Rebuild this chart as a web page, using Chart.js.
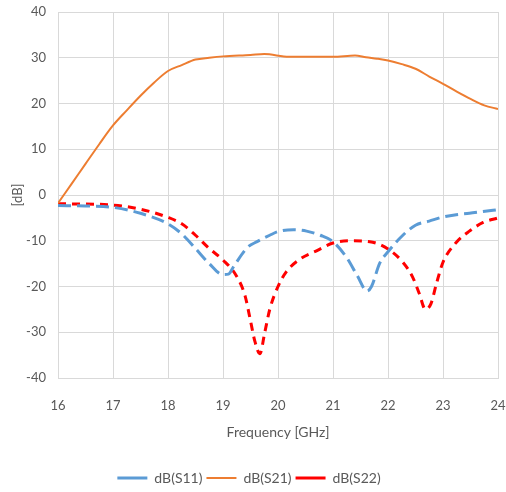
<!DOCTYPE html>
<html>
<head>
<meta charset="utf-8">
<script src="https://cdn.jsdelivr.net/npm/chart.js@4"></script>
<style>
  html, body { margin: 0; padding: 0; background: #fff; }
  #chart { display: block; }
</style>
</head>
<body>
<canvas id="chart" width="506" height="492"></canvas>
<script>
// S-parameters
const s11Freq = [16, 16.5, 17, 17.5, 18, 18.25, 18.5, 18.75, 19, 19.1, 19.2, 19.45, 19.62, 19.85, 20, 20.28, 20.52, 20.77, 21, 21.25, 21.44, 21.62, 21.7, 21.85, 22, 22.27, 22.5, 22.75, 23, 23.24, 23.48, 23.73, 24];
const s11Db = [-2.3, -2.4, -2.7, -4.0, -6.3, -8.5, -11.7, -15, -17.4, -17.3, -15.5, -11.4, -10.2, -8.8, -8, -7.6, -7.9, -8.8, -10.2, -13.7, -17.6, -21, -20, -14.9, -12.4, -8.8, -6.6, -5.7, -4.8, -4.3, -4, -3.6, -3.2];

const s21Freq = [16, 16.25, 16.5, 16.75, 17, 17.25, 17.5, 17.75, 18, 18.25, 18.5, 18.75, 19, 19.5, 19.75, 20.2, 21, 21.4, 21.6, 21.8, 22, 22.25, 22.5, 22.75, 23, 23.25, 23.5, 23.75, 24];
const s21Db = [-1.8, 2.5, 6.8, 11.1, 15.2, 18.5, 21.7, 24.6, 27.1, 28.4, 29.6, 30, 30.3, 30.6, 30.8, 30.2, 30.2, 30.5, 30.1, 29.8, 29.4, 28.6, 27.6, 25.9, 24.3, 22.6, 21, 19.6, 18.8];

const s22Freq = [16, 17, 17.5, 18, 18.25, 18.5, 18.75, 19, 19.25, 19.4, 19.5, 19.58, 19.67, 19.76, 19.85, 20, 20.15, 20.4, 20.7, 21, 21.3, 21.67, 22, 22.27, 22.45, 22.57, 22.68, 22.78, 22.88, 23, 23.24, 23.48, 23.73, 24];
const s22Db = [-1.9, -2.2, -3.1, -4.9, -6.3, -8.8, -11.7, -14.2, -17.8, -22, -27.5, -32, -34.7, -30, -25, -20, -16.8, -14, -12.2, -10.5, -10, -10.2, -11.8, -14.7, -18, -21.6, -25, -23.8, -19.4, -14.7, -10.4, -7.9, -6, -5];

const seriesNames = ['dB(S11)', 'dB(S21)', 'dB(S22)'];

function toPoints(xs, ys) {
  return xs.map((x, i) => ({ x: x, y: ys[i] }));
}

const textColor = '#595959';
const gridColor = '#d9d9d9';
const fontFamily = 'Lato, "Open Sans", sans-serif';

const ctx = document.getElementById('chart').getContext('2d');
new Chart(ctx, {
  type: 'line',
  data: {
    datasets: [
      {
        label: seriesNames[0],
        data: toPoints(s11Freq, s11Db),
        borderColor: '#5b9bd5',
        backgroundColor: '#5b9bd5',
        borderWidth: 3,
        borderDash: [13, 6],
        pointRadius: 0,
        cubicInterpolationMode: 'monotone'
      },
      {
        label: seriesNames[1],
        data: toPoints(s21Freq, s21Db),
        borderColor: '#ed7d31',
        backgroundColor: '#ed7d31',
        borderWidth: 2,
        pointRadius: 0,
        cubicInterpolationMode: 'monotone'
      },
      {
        label: seriesNames[2],
        data: toPoints(s22Freq, s22Db),
        borderColor: '#ff0000',
        backgroundColor: '#ff0000',
        borderWidth: 3,
        borderDash: [8, 6],
        pointRadius: 0,
        cubicInterpolationMode: 'monotone'
      }
    ]
  },
  options: {
    responsive: false,
    animation: false,
    // legend sits a little lower than chart.js would put it
    layout: { padding: { left: 0, right: 8, top: 12, bottom: -3 } },
    scales: {
      x: {
        type: 'linear',
        min: 16,
        max: 24,
        ticks: { stepSize: 1, padding: 20, color: textColor, font: { family: fontFamily, size: 13 } },
        grid: { color: gridColor, drawTicks: false },
        border: { color: gridColor },
        title: {
          display: true,
          text: 'Frequency [GHz]',
          color: textColor,
          font: { family: fontFamily, size: 14 },
          padding: { top: 0, bottom: 26 }
        },
        afterFit: (scale) => {
          scale.height = 89;
          scale.paddingLeft = 0;
          scale.paddingRight = 0;
        }
      },
      y: {
        min: -40,
        max: 40,
        ticks: { stepSize: 10, padding: 12, color: textColor, font: { family: fontFamily, size: 13 } },
        grid: { color: gridColor, drawTicks: false },
        border: { color: gridColor },
        title: {
          display: true,
          text: '[dB]',
          color: textColor,
          font: { family: fontFamily, size: 13 },
          padding: { top: 10, bottom: 0 }
        },
        afterFit: (scale) => {
          scale.width = 58;
          scale.paddingTop = 0;
          scale.paddingBottom = 0;
        }
      }
    },
    plugins: {
      legend: {
        position: 'bottom',
        labels: {
          color: textColor,
          font: { family: fontFamily, size: 14 },
          usePointStyle: true,
          pointStyle: 'line',
          pointStyleWidth: 30,
          padding: 4
        }
      },
      tooltip: { enabled: false }
    }
  }
});
</script>
</body>
</html>
